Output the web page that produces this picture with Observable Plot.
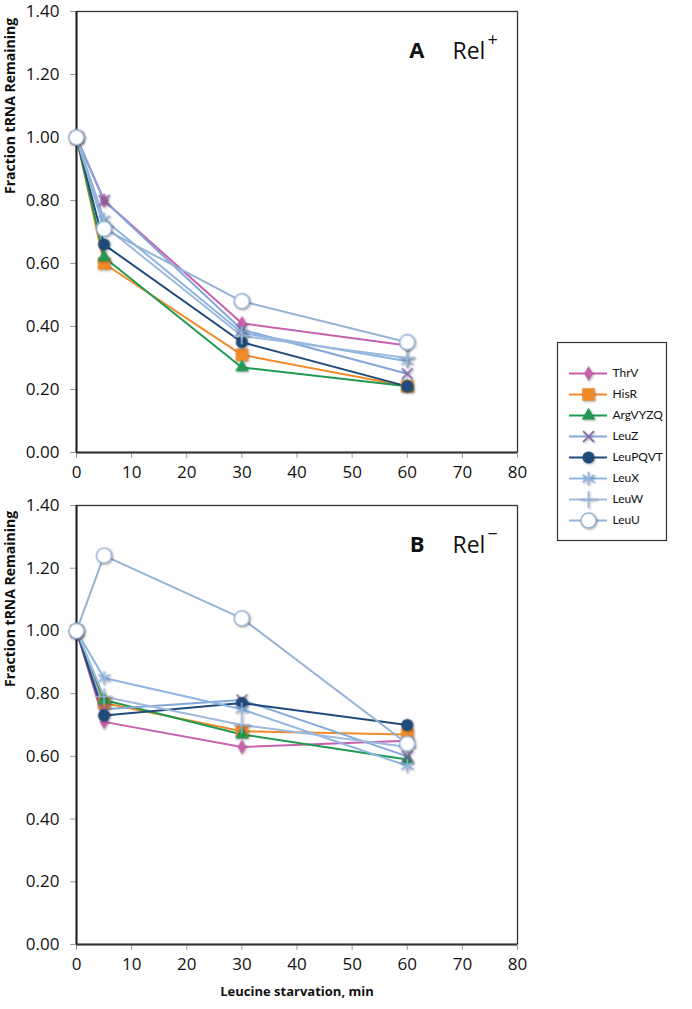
<!DOCTYPE html>
<html>
<head>
<meta charset="utf-8">
<script src="https://cdn.jsdelivr.net/npm/d3@7"></script>
<script src="https://cdn.jsdelivr.net/npm/@observablehq/plot@0.6"></script>
<style>
  html, body { margin: 0; padding: 0; background: #fff; }
  #wrap { position: relative; width: 692px; height: 1009px; font-family: "Open Sans", sans-serif; }
  #top, #bottom, #legend { position: absolute; }
  #top { left: 0; top: 0; }
  #bottom { left: 0; top: 498px; }
  #legend { left: 557px; top: 342px; }
  g[aria-label="dot"] { filter: drop-shadow(1px 1px 1px rgba(0,0,0,0.35)); }
</style>
</head>
<body>
<div id="wrap">
  <div id="top"></div>
  <div id="bottom"></div>
  <div id="legend"></div>
</div>
<script>
// ---- data ----
const times = [0, 5, 30, 60];
const series = ["ThrV", "HisR", "ArgVYZQ", "LeuZ", "LeuPQVT", "LeuX", "LeuW", "LeuU"];

// Panel A: Rel+
const relPlus = {
  ThrV:    [1.00, 0.80, 0.41, 0.34],
  HisR:    [1.00, 0.60, 0.31, 0.21],
  ArgVYZQ: [1.00, 0.62, 0.27, 0.21],
  LeuZ:    [1.00, 0.80, 0.39, 0.25],
  LeuPQVT: [1.00, 0.66, 0.35, 0.21],
  LeuX:    [1.00, 0.74, 0.38, 0.29],
  LeuW:    [1.00, 0.72, 0.37, 0.30],
  LeuU:    [1.00, 0.71, 0.48, 0.35]
};
// Panel B: Rel-
const relMinus = {
  ThrV:    [1.00, 0.71, 0.63, 0.65],
  HisR:    [1.00, 0.77, 0.68, 0.67],
  ArgVYZQ: [1.00, 0.78, 0.67, 0.59],
  LeuZ:    [1.00, 0.75, 0.78, 0.60],
  LeuPQVT: [1.00, 0.73, 0.77, 0.70],
  LeuX:    [1.00, 0.85, 0.75, 0.57],
  LeuW:    [1.00, 0.79, 0.70, 0.63],
  LeuU:    [1.00, 1.24, 1.04, 0.64]
};

const yTicks = [0, 0.2, 0.4, 0.6, 0.8, 1.0, 1.2, 1.4];
const xTicks = [0, 10, 20, 30, 40, 50, 60, 70, 80];
const xTitle = "Leucine starvation, min";
const yTitle = "Fraction tRNA Remaining";

// ---- styles ----
const lineColors = ["#c861ad", "#f08a2a", "#1f9a50", "#84a7da", "#1f4a7a", "#8db4e2", "#9db9dc", "#95b3d7"];
const markerStyles = {
  ThrV:    { symbol: "diamond",  fill: "#c861ad", stroke: "none", r: 4.5 },
  HisR:    { symbol: "square",   fill: "#f08a2a", stroke: "none", r: 7 },
  ArgVYZQ: { symbol: "triangle", fill: "#1f9a50", stroke: "none", r: 5 },
  LeuZ:    { symbol: "times",    fill: "none", stroke: "#8568ac", r: 5, sw: 1.6 },
  LeuPQVT: { symbol: "circle",   fill: "#1f4a7a", stroke: "none", r: 6 },
  LeuX:    { symbol: "asterisk", fill: "none", stroke: "#8db4e2", r: 6.5, sw: 1.6 },
  LeuW:    { symbol: "plus",     fill: "none", stroke: "#9db9dc", r: 5.5, sw: 1.6 },
  LeuU:    { symbol: "circle",   fill: "white", stroke: "#95b3d7", r: 7.5, sw: 1.4 }
};

function rowsOf(values) {
  const rows = [];
  for (const s of series) values[s].forEach((v, i) => rows.push({ s, t: times[i], v }));
  return rows;
}

function dotMark(data, s, extra = {}) {
  const m = markerStyles[s];
  return Plot.dot(data, {
    ...extra,
    symbol: () => m.symbol,
    r: m.r,
    fill: m.fill,
    stroke: m.stroke,
    strokeWidth: m.sw || 1
  });
}

function panel(values, letter, sup, height, marginTop, marginBottom, showXTitle) {
  const rows = rowsOf(values);
  const marks = [
    Plot.frame({ stroke: "#333", strokeWidth: 1.3 }),
    Plot.axisY({ ticks: yTicks, tickFormat: d => d.toFixed(2), tickSize: 6, tickPadding: 11, stroke: "#999", label: null }),
    Plot.axisX({ ticks: xTicks, tickSize: 6, tickPadding: 7, stroke: "#999", label: null }),
    Plot.ruleX([0], { stroke: "#222", strokeWidth: 2 }),
    Plot.ruleY([0], { stroke: "#333", strokeWidth: 2 }),
    Plot.line(rows, { x: "t", y: "v", z: "s", stroke: "s", strokeWidth: 2 })
  ];
  for (const s of series) {
    marks.push(dotMark(rows.filter(d => d.s === s), s, { x: "t", y: "v" }));
  }
  marks.push(
    Plot.text([yTitle], { frameAnchor: "left", dx: -66, dy: -38, rotate: -90, fontWeight: "bold", fontSize: 14, fill: "#111" }),
    Plot.text([letter], { frameAnchor: "top-right", dx: -93, dy: 31, fontWeight: "bold", fontSize: 22, fill: "#111" }),
    Plot.text(["Rel"], { frameAnchor: "top-right", dx: -65, dy: 31, textAnchor: "start", fontSize: 23, fill: "#111" }),
    Plot.text([sup], { frameAnchor: "top-right", dx: -30, dy: 22, textAnchor: "start", fontSize: 18, fill: "#111" })
  );
  if (showXTitle) {
    marks.push(Plot.text([xTitle], { frameAnchor: "bottom", dy: 51, fontWeight: "bold", fontSize: 13, fill: "#111" }));
  }
  return Plot.plot({
    width: 540,
    height,
    marginLeft: 76,
    marginRight: 23,
    marginTop,
    marginBottom,
    x: { domain: [0, 80] },
    y: { domain: [0, 1.4] },
    color: { domain: series, range: lineColors },
    style: { fontFamily: "'Open Sans', sans-serif", fontSize: "17px", color: "#111", background: "transparent", overflow: "visible" },
    marks
  });
}

document.getElementById("top").append(panel(relPlus, "A", "+", 492, 11, 40, false));
document.getElementById("bottom").append(panel(relMinus, "B", "−", 511, 7, 65, true));

// ---- legend ----
const legendMarks = [
  Plot.frame({ stroke: "#333", strokeWidth: 1.2 }),
  Plot.ruleY(series, { y: d => d, stroke: d => d, strokeWidth: 2, insetLeft: 12, insetRight: 59 })
];
for (const s of series) {
  legendMarks.push(dotMark([s], s, { y: d => d, frameAnchor: "left", dx: 31 }));
}
legendMarks.push(Plot.text(series, { y: d => d, frameAnchor: "left", dx: 55, textAnchor: "start", fontSize: 12, fontFamily: "Lato, sans-serif", fill: "#111" }));

document.getElementById("legend").append(Plot.plot({
  width: 109,
  height: 198,
  margin: 0,
  x: { domain: [0, 1], axis: null },
  y: { type: "point", domain: series, range: [20, 188], axis: null },
  color: { domain: series, range: lineColors },
  style: { fontFamily: "Lato, sans-serif", background: "transparent", overflow: "visible" },
  marks: legendMarks
}));
</script>
</body>
</html>
